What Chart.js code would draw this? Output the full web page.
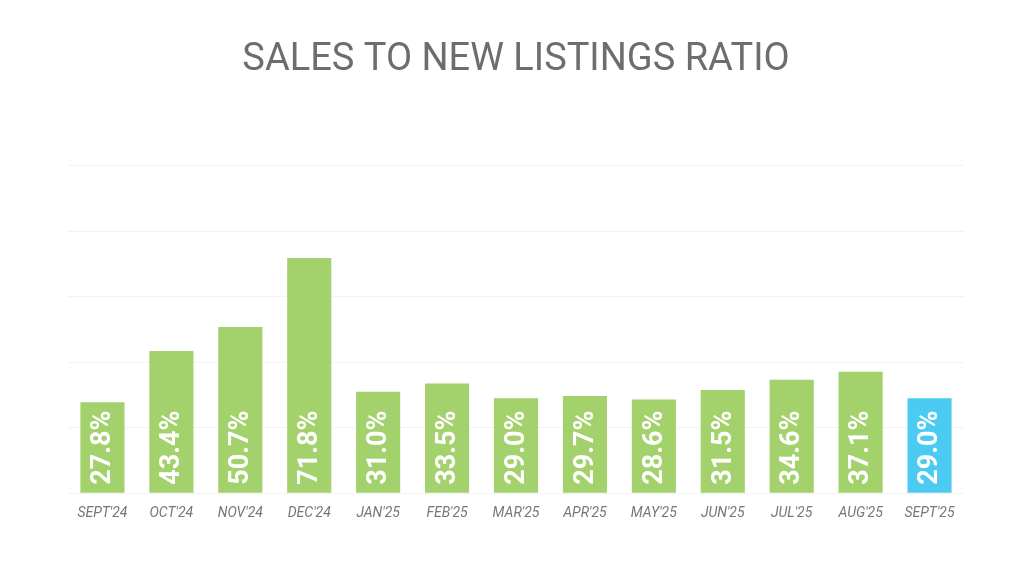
<!DOCTYPE html>
<html><head><meta charset="utf-8">
<script src="https://cdn.jsdelivr.net/npm/chart.js@4"></script>
<style>html,body{margin:0;background:#fff}#w{width:1024px;height:576px}</style>
</head><body><div id="w"><canvas id="c"></canvas></div>
<script>
const categories=["SEPT'24","OCT'24","NOV'24","DEC'24","JAN'25","FEB'25","MAR'25","APR'25","MAY'25","JUN'25","JUL'25","AUG'25","SEPT'25"];
const ratios=[27.8,43.4,50.7,71.8,31.0,33.5,29.0,29.7,28.6,31.5,34.6,37.1,29.0];
const colors=ratios.map((v,i)=>i===ratios.length-1?'#4ccbf2':'#a3d16b');
const labelPlugin={id:'lbl',afterDatasetsDraw(chart){
  const ctx=chart.ctx;const meta=chart.getDatasetMeta(0);
  meta.data.forEach((b,i)=>{
    const w=b.width,x=b.x-w/2,top=b.y,bot=b.base;
    ctx.save();ctx.beginPath();ctx.rect(x,top,w,bot-top);ctx.clip();
    ctx.translate(b.x,bot-8);ctx.rotate(-Math.PI/2);
    ctx.fillStyle='#fff';ctx.font='bold 27px Roboto';ctx.textAlign='left';ctx.textBaseline='middle';
    ctx.fillText(ratios[i].toFixed(1)+'%',0,1);ctx.restore();
  });
}};
new Chart(document.getElementById('c'),{type:'bar',
 data:{labels:categories,datasets:[{data:ratios,backgroundColor:colors,barPercentage:0.64,categoryPercentage:1}]},
 options:{responsive:true,maintainAspectRatio:false,animation:false,
  layout:{padding:{left:68,right:60,top:20,bottom:50}},
  plugins:{legend:{display:false},tooltip:{enabled:false},
   title:{display:true,text:'SALES TO NEW LISTINGS RATIO',color:'#6d6d6d',font:{family:'Roboto',size:38,weight:'normal'},padding:{top:18,bottom:82}}},
  scales:{x:{grid:{display:false},border:{display:false},ticks:{color:'#777',font:{family:'Roboto',size:14,style:'italic'},maxRotation:0,padding:4}},
   y:{min:0,max:100,ticks:{display:false,stepSize:20},border:{display:false},grid:{color:'#f3f3f3',drawTicks:false}}}}
 ,plugins:[labelPlugin]});
</script></body></html>
